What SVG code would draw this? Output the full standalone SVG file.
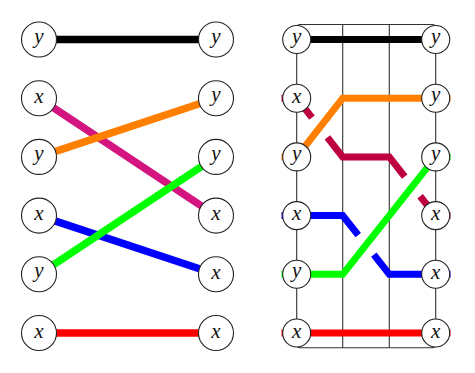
<svg xmlns="http://www.w3.org/2000/svg" width="475" height="373" viewBox="0 0 475 373">
<style>
  .nodeL circle { fill: #fff; stroke: #222; stroke-width: 1.1; }
  .nodeR circle { fill: #fff; stroke: #222; stroke-width: 1.1; }
  text { font-family: "Liberation Serif", "DejaVu Serif", serif; font-style: italic; font-size: 21px; fill: #111; text-anchor: middle; }
  .s { fill: none; stroke-linecap: butt; stroke-linejoin: miter; }
  .l { stroke-width: 7.5; }
  .r { stroke-width: 7; }
  .frame { fill: none; stroke: #333; stroke-width: 1.1; }
</style>

<g id="connectors-left">
  <line class="s l" x1="39" y1="39.5" x2="216" y2="39.5" stroke="#000"/>
  <line class="s l" x1="39" y1="98.2" x2="216" y2="215.6" stroke="#D4147F"/>
  <line class="s l" x1="39" y1="156.9" x2="216" y2="98.2" stroke="#FF8000"/>
  <line class="s l" x1="39" y1="215.6" x2="216" y2="274.3" stroke="#0000FF"/>
  <line class="s l" x1="39" y1="274.3" x2="216" y2="156.9" stroke="#00FF00"/>
  <line class="s l" x1="39" y1="333" x2="216" y2="333" stroke="#FF0000"/>
</g>

<g id="left-nodes">
  <g id="L1" class="nodeL"><circle cx="39" cy="39.5" r="17.5"/><text x="39" y="42.5">y</text></g>
  <g id="L2" class="nodeL"><circle cx="39" cy="98.2" r="17.5"/><text x="39" y="103">x</text></g>
  <g id="L3" class="nodeL"><circle cx="39" cy="156.9" r="17.5"/><text x="39" y="159.9">y</text></g>
  <g id="L4" class="nodeL"><circle cx="39" cy="215.6" r="17.5"/><text x="39" y="220.4">x</text></g>
  <g id="L5" class="nodeL"><circle cx="39" cy="274.3" r="17.5"/><text x="39" y="277.3">y</text></g>
  <g id="L6" class="nodeL"><circle cx="39" cy="333" r="17.5"/><text x="39" y="337.8">x</text></g>
  <g id="R1" class="nodeL"><circle cx="216" cy="39.5" r="17.5"/><text x="216" y="42.5">y</text></g>
  <g id="R2" class="nodeL"><circle cx="216" cy="98.2" r="17.5"/><text x="216" y="101.2">y</text></g>
  <g id="R3" class="nodeL"><circle cx="216" cy="156.9" r="17.5"/><text x="216" y="159.9">y</text></g>
  <g id="R4" class="nodeL"><circle cx="216" cy="215.6" r="17.5"/><text x="216" y="220.4">x</text></g>
  <g id="R5" class="nodeL"><circle cx="216" cy="274.3" r="17.5"/><text x="216" y="279.1">x</text></g>
  <g id="R6" class="nodeL"><circle cx="216" cy="333" r="17.5"/><text x="216" y="337.8">x</text></g>
</g>

<g id="frame">
  <rect class="frame" x="296.7" y="24.5" width="139" height="323.2" rx="3.5"/>
  <line class="frame" x1="342.7" y1="24.5" x2="342.7" y2="347.7"/>
  <line class="frame" x1="389.3" y1="24.5" x2="389.3" y2="347.7"/>
</g>

<g id="connectors-right">
  <path class="s r" d="M296.7,39.5 H435.7" stroke="#000"/>
  <path class="s r" d="M281.5,98.2 H296.7 L312,117.7" stroke="#BF0040"/>
  <path class="s r" d="M327.4,137.3 L342.7,156.9 H389.3 L404.7,176.6" stroke="#BF0040"/>
  <path class="s r" d="M420.1,196.2 L435.7,215.6 H450.5" stroke="#BF0040"/>
  <path class="s r" d="M281.5,215.6 H342.7 L358.2,235.1" stroke="#0000FF"/>
  <path class="s r" d="M373.8,254.7 L389.3,274.3 H450.5" stroke="#0000FF"/>
  <path class="s r" d="M281.5,156.9 H296.7 L342.7,98.2 H450.5" stroke="#FF8000"/>
  <path class="s r" d="M281.5,274.3 H342.7 L435.7,156.9 H450.5" stroke="#00FF00"/>
  <path class="s r" d="M281.5,333 H450.5" stroke="#FF0000"/>
</g>

<g id="right-nodes">
  <g id="A1" class="nodeR"><circle cx="296.7" cy="39.5" r="14"/><text x="296.7" y="42.5">y</text></g>
  <g id="A2" class="nodeR"><circle cx="296.7" cy="98.2" r="14"/><text x="296.7" y="103">x</text></g>
  <g id="A3" class="nodeR"><circle cx="296.7" cy="156.9" r="14"/><text x="296.7" y="159.9">y</text></g>
  <g id="A4" class="nodeR"><circle cx="296.7" cy="215.6" r="14"/><text x="296.7" y="220.4">x</text></g>
  <g id="A5" class="nodeR"><circle cx="296.7" cy="274.3" r="14"/><text x="296.7" y="277.3">y</text></g>
  <g id="A6" class="nodeR"><circle cx="296.7" cy="333" r="14"/><text x="296.7" y="337.8">x</text></g>
  <g id="B1" class="nodeR"><circle cx="435.7" cy="39.5" r="14"/><text x="435.7" y="42.5">y</text></g>
  <g id="B2" class="nodeR"><circle cx="435.7" cy="98.2" r="14"/><text x="435.7" y="101.2">y</text></g>
  <g id="B3" class="nodeR"><circle cx="435.7" cy="156.9" r="14"/><text x="435.7" y="159.9">y</text></g>
  <g id="B4" class="nodeR"><circle cx="435.7" cy="215.6" r="14"/><text x="435.7" y="220.4">x</text></g>
  <g id="B5" class="nodeR"><circle cx="435.7" cy="274.3" r="14"/><text x="435.7" y="279.1">x</text></g>
  <g id="B6" class="nodeR"><circle cx="435.7" cy="333" r="14"/><text x="435.7" y="337.8">x</text></g>
</g>
</svg>
